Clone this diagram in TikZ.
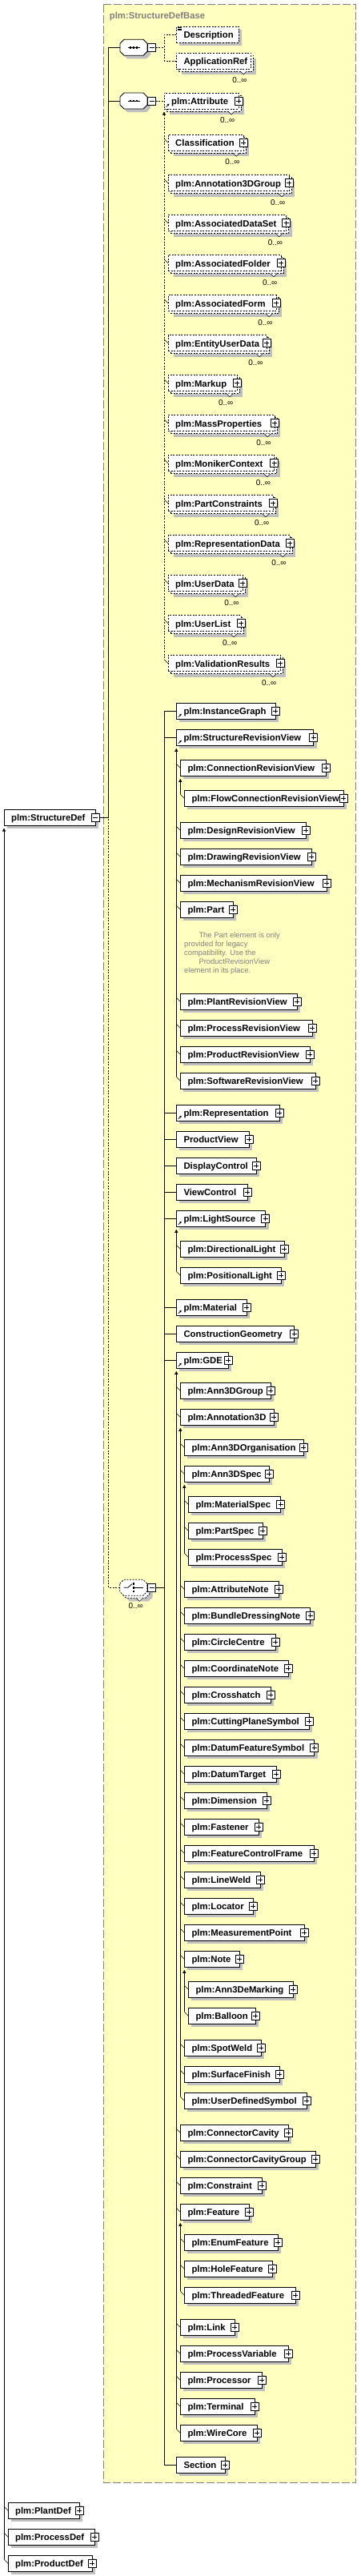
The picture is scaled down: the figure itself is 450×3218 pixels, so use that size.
\documentclass[tikz,border=0pt]{standalone}
\usepackage{fontspec}
\setmainfont{Liberation Sans}
\usetikzlibrary{calc,arrows.meta}
\definecolor{ybg}{RGB}{255,255,192}
\definecolor{shd}{RGB}{192,192,192}
\definecolor{frm}{RGB}{128,128,128}
\definecolor{notec}{RGB}{128,128,128}
\tikzset{
 bx/.style={draw=black, fill=white, line width=0.8pt, minimum height=20pt, inner sep=0pt, outer sep=0pt, anchor=west},
 dsh/.style={dash pattern=on 2pt off 1.6pt},
 lbl/.style={anchor=base west, inner sep=0pt, font=\bfseries\fontsize{11.3}{13}\selectfont},
 ttlstyle/.style={anchor=base west, inner sep=0pt, text=frm, font=\bfseries\fontsize{11.3}{13}\selectfont},
 mlt/.style={anchor=base east, inner sep=0pt, font=\fontsize{10}{12}\selectfont},
 notestyle/.style={anchor=base west, inner sep=0pt, text=notec, font=\fontsize{9.4}{11}\selectfont},
 pmbox/.style={draw=black, fill=white, line width=0.8pt, minimum size=10pt, inner sep=0pt, outer sep=0pt},
 conn/.style={line width=0.8pt},
 tk/.style={line width=0.5pt},
 arr/.style={line width=0.8pt, {Triangle[length=4pt,width=4pt]}-},
 frame/.style={draw=frm, fill=ybg, line width=0.8pt, dash pattern=on 10pt off 3pt},
 octnode/.style={inner sep=0pt, outer sep=0pt, minimum width=34pt, minimum height=20pt},
}
\newcommand\PlusAt[2]{\node[pmbox] (#1) at (#2) {};
 \draw[line width=0.8pt] ($(#1.center)+(-3,0)$) -- ($(#1.center)+(3,0)$) ($(#1.center)+(0,-3)$) -- ($(#1.center)+(0,3)$);}
\newcommand\MinusAt[2]{\node[pmbox] (#1) at (#2) {};
 \draw[line width=0.8pt] ($(#1.center)+(-3,0)$) -- ($(#1.center)+(3,0)$);}
\newcommand\El[6]{%
 \fill[shd] (#2+4,#3-6) rectangle (#4+4,#3+14);
 \node[bx,#6,minimum width={(#4)-(#2)}] (#1) at (#2,#3) {};
 \node[lbl] (#1-t) at (#2+9,#3+4.5) {#5};}
\newcommand\ElP[6]{\El{#1}{#2}{#3}{#4}{#5}{#6}\PlusAt{#1-p}{#4,#3}}
\newcommand\MEl[5]{%
 \fill[shd] (#2+7,#3-3) rectangle (#4+7,#3+17);
 \node[bx,dsh,minimum width={(#4)-(#2)}] (#1-b) at (#2+3,#3+3) {};
 \draw[tk,fill=white] (#4-13,#3+13) -- (#4-9,#3+17) -- (#4-5,#3+13);
 \node[bx,dsh,minimum width={(#4)-(#2)}] (#1) at (#2,#3) {};
 \node[lbl] (#1-t) at (#2+9,#3+4.5) {#5};
 \node[mlt] (#1-m) at (#4-4.5,#3+27.5) {0..∞};}
\newcommand\MElP[5]{\MEl{#1}{#2}{#3}{#4}{#5}\PlusAt{#1-p}{#4,#3}}
\newcommand\RefIc[1]{\draw[line width=0.7pt,-{Triangle[length=2.5pt,width=2.5pt]}] ($(#1.south west)+(2.5,-2.5)$) -- ($(#1.south west)+(6.5,-6.5)$);}
\newcommand\octp[2]{(#1-17,#2-5) -- (#1-12,#2-10) -- (#1+12,#2-10) -- (#1+17,#2-5) -- (#1+17,#2+5) -- (#1+12,#2+10) -- (#1-12,#2+10) -- (#1-17,#2+5) -- cycle}
\newcommand\SeqC[3]{%
 \fill[shd] \octp{#2+4}{#3+4};
 \draw[conn,fill=white] \octp{#2}{#3};
 \node[octnode] (#1) at (#2,#3) {};
 \draw[conn] (#2-7,#3) -- (#2+8,#3);
 \fill (#2-5.3,#3-1.3) rectangle ++(2.6,2.6);
 \fill (#2-1.3,#3-1.3) rectangle ++(2.6,2.6);
 \fill (#2+2.7,#3-1.3) rectangle ++(2.6,2.6);
 \MinusAt{#1-m}{#2+22.7,#3}}
\newcommand\Tick[1]{\draw[tk] ($(#1.west)+(-5,-5)$) -- (#1.west);}
\begin{document}
\begin{tikzpicture}[x=1pt,y=-1pt]
\useasboundingbox (0,0) rectangle (450,3218);
\fill[white] (0,0) rectangle (450,3218);
\draw[frame] (129.3,5.7) rectangle (444.3,3101.3);
\node[ttlstyle] (ttl) at (136.7,23.3) {plm:StructureDefBase};

% root
\El{sd}{5}{1021}{119.3}{plm:StructureDef}{}
\MinusAt{sd-m}{119.3,1021}
\ElP{plant}{10}{3136.3}{99.3}{plm:PlantDef}{}
\ElP{procd}{10}{3169.3}{118.3}{plm:ProcessDef}{}
\ElP{prodd}{10}{3202.3}{115.3}{plm:ProductDef}{}

% sequences
\SeqC{seqa}{167}{59.3}
\SeqC{seqb}{167}{126}

% seq1 children
\El{desc}{220.3}{43.3}{298.3}{Description}{dsh}
\draw[line width=0.5pt] ($(desc.north west)+(2,1.3)$) -- ++(4.5,0) ($(desc.north west)+(2,2.7)$) -- ++(4.5,0) ($(desc.north west)+(2,4.1)$) -- ++(4.5,0);
\MEl{appref}{220.3}{76}{313.3}{ApplicationRef}

% seq2 children
\MElP{attr}{205}{126}{298}{plm:Attribute}
\RefIc{attr}
\MElP{cls}{210}{178.3}{304.2}{Classification}
\MElP{adg}{210}{228.7}{361}{plm:Annotation3DGroup}
\MElP{ads}{210}{278.7}{357.7}{plm:AssociatedDataSet}
\MElP{afo}{210}{328.7}{351}{plm:AssociatedFolder}
\MElP{afm}{210}{378.7}{345.3}{plm:AssociatedForm}
\MElP{eud}{210}{428.7}{333.3}{plm:EntityUserData}
\MElP{mku}{210}{478.7}{296}{plm:Markup}
\MElP{mpr}{210}{528.7}{343.3}{plm:MassProperties}
\MElP{mcx}{210}{578.7}{342.7}{plm:MonikerContext}
\MElP{pcs}{210}{628.7}{341}{plm:PartConstraints}
\MElP{rpd}{210}{678.7}{362.3}{plm:RepresentationData}
\MElP{usd}{210}{728.7}{303.3}{plm:UserData}
\MElP{usl}{210}{778.7}{301}{plm:UserList}
\MElP{vres}{210}{828.7}{350}{plm:ValidationResults}

% choice compositor
\fill[shd] \octp{173.7}{1990.3};
\draw[conn,dsh,fill=white] \octp{169.7}{1986.3};
\draw[tk,fill=white] (170.3,1996.3) -- (174.3,2000.3) -- (178.3,1996.3);
\draw[conn,dsh,fill=white] \octp{166.7}{1983.3};
\node[octnode] (cho) at (166.7,1983.3) {};
\draw[conn] (154.7,1983.3) -- (159.7,1983.3) -- (165,1978.6);
\fill (166,1977.3) rectangle ++(2.4,2.4);
\fill (166,1982.1) rectangle ++(2.4,2.4);
\fill (166,1986.9) rectangle ++(2.4,2.4);
\draw[conn] (168.4,1983.3) -- (178.7,1983.3);
\node[mlt] (cho-mult) at (179,2009.3) {0..∞};
\MinusAt{cho-m}{189.7,1983.3}

% choice children
\ElP{ig}{220.3}{888.3}{344.3}{plm:InstanceGraph}{} \RefIc{ig}
\ElP{srv}{220.3}{921.3}{391.7}{plm:StructureRevisionView}{} \RefIc{srv}
\ElP{crv}{225.3}{959.3}{407.3}{plm:ConnectionRevisionView}{}
\ElP{fcrv}{230.3}{997.3}{429.3}{plm:FlowConnectionRevisionView}{}
\ElP{desrv}{225.3}{1037.3}{382.3}{plm:DesignRevisionView}{}
\ElP{drrv}{225.3}{1070.3}{389.3}{plm:DrawingRevisionView}{}
\ElP{mrv}{225.3}{1103.3}{408.3}{plm:MechanismRevisionView}{}
\ElP{part}{225.3}{1136.3}{291.3}{plm:Part}{}
\node[notestyle] (n1) at (248.3,1171.5) {The Part element is only};
\node[notestyle] (n2) at (230,1182.5) {provided for legacy};
\node[notestyle] (n3) at (230,1193.5) {compatibility. Use the};
\node[notestyle] (n4) at (248.3,1204.5) {ProductRevisionView};
\node[notestyle] (n5) at (230,1215.5) {element in its place.};
\ElP{plrv}{225.3}{1251.3}{371}{plm:PlantRevisionView}{}
\ElP{prcrv}{225.3}{1284.3}{390}{plm:ProcessRevisionView}{}
\ElP{prdrv}{225.3}{1317.3}{387.3}{plm:ProductRevisionView}{}
\ElP{swrv}{225.3}{1350.3}{394.3}{plm:SoftwareRevisionView}{}
\ElP{rep}{220.3}{1390.3}{349.3}{plm:Representation}{} \RefIc{rep}
\ElP{pv}{220.3}{1423.3}{311.3}{ProductView}{}
\ElP{dc}{220.3}{1456.3}{320.3}{DisplayControl}{}
\ElP{vc}{220.3}{1489.3}{309}{ViewControl}{}
\ElP{ls}{220.3}{1522.3}{331.7}{plm:LightSource}{} \RefIc{ls}
\ElP{dl}{225.3}{1560.3}{355.3}{plm:DirectionalLight}{}
\ElP{pl}{225.3}{1593.3}{351.3}{plm:PositionalLight}{}
\ElP{mat}{220.3}{1633.3}{308.3}{plm:Material}{} \RefIc{mat}
\ElP{cg}{220.3}{1666.3}{367.7}{ConstructionGeometry}{}
\ElP{gde}{220.3}{1699.3}{285.3}{plm:GDE}{} \RefIc{gde}
\ElP{agr}{225.3}{1737.3}{338.3}{plm:Ann3DGroup}{}
\ElP{a3d}{225.3}{1770.3}{342.3}{plm:Annotation3D}{}
\ElP{aorg}{230.3}{1808.3}{379.3}{plm:Ann3DOrganisation}{}
\ElP{aspec}{230.3}{1841.3}{336.3}{plm:Ann3DSpec}{}
\ElP{ms}{235.3}{1879.3}{350.7}{plm:MaterialSpec}{}
\ElP{ps}{235.3}{1912.3}{328.3}{plm:PartSpec}{}
\ElP{prs}{235.3}{1945.3}{352}{plm:ProcessSpec}{}
\ElP{an}{230.3}{1985.3}{348.3}{plm:AttributeNote}{}
\ElP{bdn}{230.3}{2018.3}{387.7}{plm:BundleDressingNote}{}
\ElP{circ}{230.3}{2051.3}{344.3}{plm:CircleCentre}{}
\ElP{coord}{230.3}{2084.3}{360}{plm:CoordinateNote}{}
\ElP{xh}{230.3}{2117.3}{338.3}{plm:Crosshatch}{}
\ElP{cps}{230.3}{2150.3}{386}{plm:CuttingPlaneSymbol}{}
\ElP{dfs}{230.3}{2183.3}{392.7}{plm:DatumFeatureSymbol}{}
\ElP{dt}{230.3}{2216.3}{345.3}{plm:DatumTarget}{}
\ElP{dim}{230.3}{2249.3}{333}{plm:Dimension}{}
\ElP{fast}{230.3}{2282.3}{323}{plm:Fastener}{}
\ElP{fcf}{230.3}{2315.3}{392.3}{plm:FeatureControlFrame}{}
\ElP{lw}{230.3}{2348.3}{325}{plm:LineWeld}{}
\ElP{loc}{230.3}{2381.3}{316}{plm:Locator}{}
\ElP{mp}{230.3}{2414.3}{380}{plm:MeasurementPoint}{}
\ElP{note}{230.3}{2447.3}{299}{plm:Note}{}
\ElP{amk}{235.3}{2485.3}{366}{plm:Ann3DeMarking}{}
\ElP{bal}{235.3}{2518.3}{319.3}{plm:Balloon}{}
\ElP{sw}{230.3}{2558.3}{326.3}{plm:SpotWeld}{}
\ElP{sf}{230.3}{2591.3}{349.3}{plm:SurfaceFinish}{}
\ElP{uds}{230.3}{2624.3}{383.3}{plm:UserDefinedSymbol}{}
\ElP{cc}{225.3}{2664.3}{360}{plm:ConnectorCavity}{}
\ElP{ccg}{225.3}{2697.3}{394.3}{plm:ConnectorCavityGroup}{}
\ElP{con}{225.3}{2730.3}{327.3}{plm:Constraint}{}
\ElP{feat}{225.3}{2763.3}{311.3}{plm:Feature}{}
\ElP{ef}{230.3}{2801.3}{347.3}{plm:EnumFeature}{}
\ElP{hf}{230.3}{2834.3}{340.3}{plm:HoleFeature}{}
\ElP{tf}{230.3}{2867.3}{369}{plm:ThreadedFeature}{}
\ElP{link}{225.3}{2907.3}{293.3}{plm:Link}{}
\ElP{pvar}{225.3}{2940.3}{360}{plm:ProcessVariable}{}
\ElP{proc}{225.3}{2973.3}{327.3}{plm:Processor}{}
\ElP{term}{225.3}{3006.3}{318.3}{plm:Terminal}{}
\ElP{wc}{225.3}{3039.3}{321.3}{plm:WireCore}{}
\ElP{sec}{220.3}{3079.3}{281}{Section}{}

% connectors: root
\coordinate (lb) at (135.7,1021);
\draw[conn] (sd-m.east) -- (lb);
\draw[conn] (seqa.west) -| (lb);
\draw[conn] (seqb.west) -| (lb);
\draw[conn,dsh] (cho.west) -| (lb);
\draw[arr] ($(sd.south west)+(0,3.5)$) -- ($(prodd.west)+(-5,-5)$);
\foreach \n in {plant,procd,prodd} {\Tick{\n}}

% seq1
\coordinate (sab) at (205,59.3);
\draw[conn,dsh] (seqa-m.east) -- (sab);
\draw[conn,dsh] (desc.west) -| (sab);
\draw[conn,dsh] (appref.west) -| (sab);

% seq2
\draw[conn,dsh] (seqb-m.east) -- (attr.west);
\draw[arr,dsh] ($(attr.south west)+(0,3.5)$) -- ($(vres.west)+(-5,-5)$);
\foreach \n in {cls,adg,ads,afo,afm,eud,mku,mpr,mcx,pcs,rpd,usd,usl,vres} {\Tick{\n}}

% choice
\coordinate (cb) at (205.7,1983.3);
\draw[conn] (cho-m.east) -- (cb);
\foreach \n in {ig,srv,rep,pv,dc,vc,ls,mat,cg,gde,sec} {\draw[conn] (\n.west) -| (cb);}

% substitution groups
\draw[arr] ($(srv.south west)+(0,3.5)$) -- ($(swrv.west)+(-5,-5)$);
\draw[arr] ($(crv.south west)+(0,3.5)$) -- ($(fcrv.west)+(-5,-5)$);
\draw[arr] ($(ls.south west)+(0,3.5)$) -- ($(pl.west)+(-5,-5)$);
\draw[arr] ($(gde.south west)+(0,3.5)$) -- ($(wc.west)+(-5,-5)$);
\draw[arr] ($(a3d.south west)+(0,3.5)$) -- ($(uds.west)+(-5,-5)$);
\draw[arr] ($(aspec.south west)+(0,3.5)$) -- ($(prs.west)+(-5,-5)$);
\draw[arr] ($(note.south west)+(0,3.5)$) -- ($(bal.west)+(-5,-5)$);
\draw[arr] ($(feat.south west)+(0,3.5)$) -- ($(tf.west)+(-5,-5)$);
\foreach \n in {crv,fcrv,desrv,drrv,mrv,part,plrv,prcrv,prdrv,swrv,dl,pl,agr,a3d,aorg,aspec,ms,ps,prs,an,bdn,circ,coord,xh,cps,dfs,dt,dim,fast,fcf,lw,loc,mp,note,amk,bal,sw,sf,uds,cc,ccg,con,feat,ef,hf,tf,link,pvar,proc,term,wc} {\Tick{\n}}
\end{tikzpicture}
\end{document}
